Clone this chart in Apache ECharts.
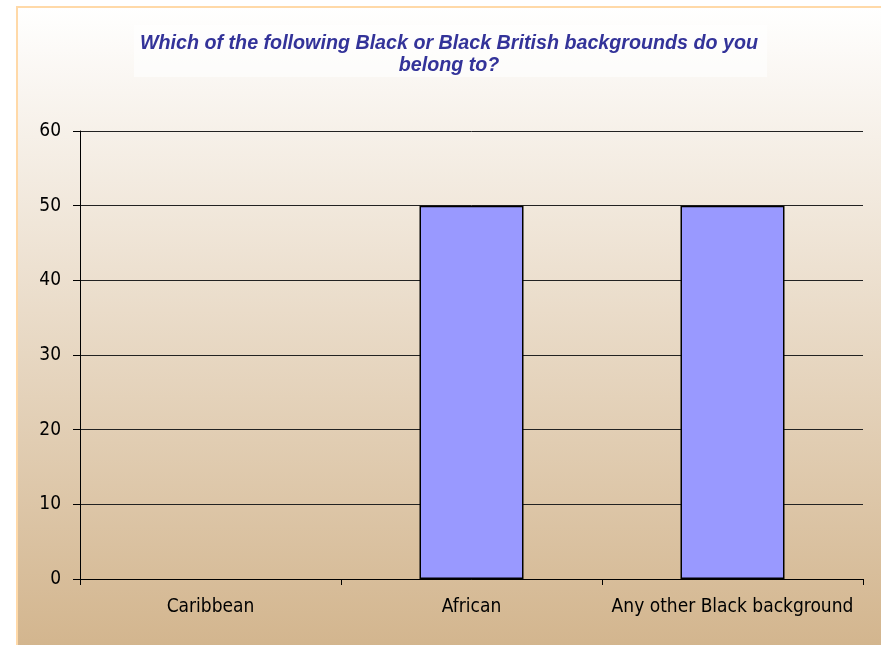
<!DOCTYPE html>
<html>
<head>
<meta charset="utf-8">
<script src="https://cdn.jsdelivr.net/npm/echarts@6/dist/echarts.min.js"></script>
<style>html,body{margin:0;padding:0;background:#fff}#c{width:881px;height:645px}</style>
</head>
<body>
<div id="c"></div>
<script>
const titleText = 'Which of the following Black or Black British backgrounds do you\nbelong to?';
const categories = ['Caribbean', 'African', 'Any other Black background'];
const values = [0, 50, 50];
const yTicks = { min: 0, max: 60, interval: 10 };

const barData = values.map(v => ({
  value: v,
  itemStyle: v === 0 ? { borderWidth: 0, color: 'rgba(0,0,0,0)' } : undefined
}));

const chart = echarts.init(document.getElementById('c'), null, { renderer: 'canvas' });
chart.setOption({
  animation: false,
  backgroundColor: '#ffffff',
  graphic: [
    {
      type: 'rect', z: -10, silent: true,
      shape: { x: 17, y: 7, width: 880, height: 650 },
      style: {
        fill: new echarts.graphic.LinearGradient(0, 0, 0, 1, [
          { offset: 0, color: '#ffffff' },
          { offset: 1, color: '#d2b48c' }
        ]),
        stroke: '#ffd9a8', lineWidth: 2
      }
    },
    {
      type: 'rect', z: -9, silent: true,
      shape: { x: 134, y: 25, width: 633, height: 52 },
      style: { fill: 'rgba(255,255,255,0.6)' }
    }
  ],
  title: {
    text: titleText,
    left: 444, top: 28, textAlign: 'center',
    textStyle: {
      fontFamily: 'Liberation Sans, Arial, sans-serif',
      fontSize: 19.7, fontWeight: 'bold', fontStyle: 'italic',
      color: '#333399', lineHeight: 22, align: 'center'
    }
  },
  grid: { left: 80, right: 18, top: 131, bottom: 66, containLabel: false },
  xAxis: {
    type: 'category', data: categories,
    axisLine: { show: true, lineStyle: { color: '#000', width: 1 } },
    axisTick: { show: true, length: 6, alignWithLabel: false, lineStyle: { color: '#000' } },
    axisLabel: { interval: 0, margin: 19, color: '#000', fontFamily: 'DejaVu Sans Condensed, DejaVu Sans, sans-serif', fontSize: 19 },
    splitLine: { show: false }
  },
  yAxis: {
    type: 'value', min: yTicks.min, max: yTicks.max, interval: yTicks.interval,
    axisLine: { show: true, lineStyle: { color: '#000', width: 1 } },
    axisTick: { show: true, length: 7, lineStyle: { color: '#000' } },
    axisLabel: { margin: 19, color: '#000', fontFamily: 'DejaVu Sans Condensed, DejaVu Sans, sans-serif', fontSize: 19 },
    splitLine: { show: true, lineStyle: { color: '#222', width: 1 } }
  },
  series: [{
    type: 'bar', data: barData, barWidth: 104,
    itemStyle: { color: '#9999ff', borderColor: '#000', borderWidth: 1.5 }
  }]
});
</script>
</body>
</html>
